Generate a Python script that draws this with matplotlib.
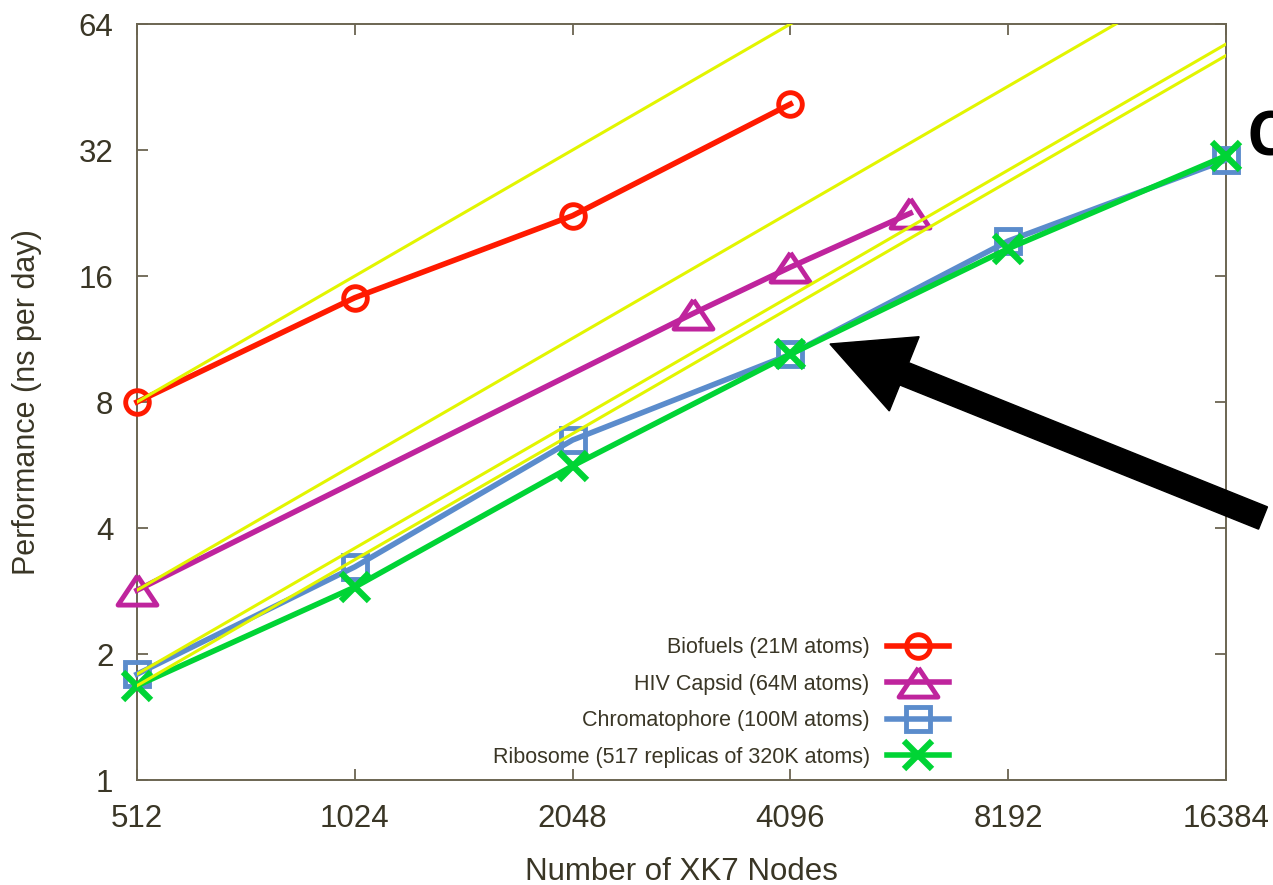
import matplotlib
matplotlib.use("Agg")
import matplotlib.pyplot as plt
from matplotlib.patches import FancyArrow
from matplotlib.transforms import IdentityTransform
from matplotlib.ticker import FixedLocator, FixedFormatter, NullLocator

# data
nodes = [512, 1024, 2048, 4096, 8192, 16384]
node_labels = ["512", "1024", "2048", "4096", "8192", "16384"]
perf_ticks = [1, 2, 4, 8, 16, 32, 64]
perf_labels = ["1", "2", "4", "8", "16", "32", "64"]

biofuels_x = [512, 1024, 2048, 4096]
biofuels_y = [8.0, 14.2, 22.3, 41.2]

hiv_x = [512, 3000, 4096, 6000]
hiv_y = [2.84, 13.0, 16.8, 22.6]

chromato_x = [512, 1024, 2048, 4096, 8192, 16384]
chromato_y = [1.79, 3.23, 6.49, 10.4, 19.4, 30.3]

ribosome_x = [512, 1024, 2048, 4096, 8192, 16384]
ribosome_y = [1.68, 2.89, 5.63, 10.4, 18.6, 31.0]

# ideal scaling lines (yellow)
ideal_x = [512, 16384]
ideal_biofuels = [8.0, 256.0]
ideal_hiv = [2.84, 90.9]
ideal_chromato = [1.79, 57.3]
ideal_ribosome = [1.68, 53.8]

text_col = "#3a3626"
spine_col = "#6b6552"
tick_font = "Liberation Sans"

fig = plt.figure(figsize=(12.73, 8.85), dpi=100)
ax = fig.add_axes([137 / 1273, 105 / 885, 1089 / 1273, 756 / 885])

ax.set_xscale("log", base=2)
ax.set_yscale("log", base=2)
ax.set_xlim(512, 16384)
ax.set_ylim(1, 64)

series = [
    (biofuels_x, biofuels_y, "#ff1a00", "o", "Biofuels (21M atoms)"),
    (hiv_x, hiv_y, "#bf249d", "tri", "HIV Capsid (64M atoms)"),
    (chromato_x, chromato_y, "#5b8ccc", "s", "Chromatophore (100M atoms)"),
    (ribosome_x, ribosome_y, "#00d435", "x", "Ribosome (517 replicas of 320K atoms)"),
]
tri = [(0, 0.75), (-1, -0.75), (1, -0.75), (0, 0.75)]

for xs, ys, col, mk, lab in series:
    if mk == "tri":
        ax.plot(xs, ys, color=col, lw=4, marker=tri, markersize=28, mfc="none",
                mec=col, mew=3.5, label=lab, clip_on=False, zorder=3)
    elif mk == "x":
        ax.plot(xs, ys, color=col, lw=4, marker="x", markersize=20, mew=4.5,
                label=lab, clip_on=False, zorder=4)
    else:
        ax.plot(xs, ys, color=col, lw=4, marker=mk, markersize=17, mfc="none",
                mec=col, mew=3.5, label=lab, clip_on=False, zorder=3)

for iy in [ideal_biofuels, ideal_hiv, ideal_chromato, ideal_ribosome]:
    ax.plot(ideal_x, iy, color="#e2f500", lw=2.2, zorder=5)

ax.xaxis.set_major_locator(FixedLocator(nodes))
ax.xaxis.set_major_formatter(FixedFormatter(node_labels))
ax.yaxis.set_major_locator(FixedLocator(perf_ticks))
ax.yaxis.set_major_formatter(FixedFormatter(perf_labels))
ax.xaxis.set_minor_locator(NullLocator())
ax.yaxis.set_minor_locator(NullLocator())

ax.tick_params(axis="both", direction="in", length=8, width=1.3, color=spine_col,
               top=True, right=True, labelcolor=text_col, labelsize=22.5)
ax.tick_params(axis="x", pad=17)
ax.tick_params(axis="y", pad=17)
for lbl in ax.get_xticklabels() + ax.get_yticklabels():
    lbl.set_fontfamily(tick_font)
for sp in ax.spines.values():
    sp.set_color(spine_col)
    sp.set_linewidth(1.4)

ax.set_xlabel("Number of XK7 Nodes", fontsize=22.5, color=text_col,
              family=tick_font, labelpad=17)
ax.set_ylabel("Performance (ns per day)", fontsize=22, color=text_col,
              family=tick_font, labelpad=26)

leg = ax.legend(loc="lower right", bbox_to_anchor=(0.746, 0.016), frameon=False,
                markerfirst=False, numpoints=1, handlelength=2.9,
                handletextpad=0.8, labelspacing=0.72, borderaxespad=0,
                borderpad=0, prop={"family": tick_font, "size": 15.5})
for t in leg.get_texts():
    t.set_color(text_col)

# big annotation arrow, in figure pixels
arrow = FancyArrow(1263, 885 - 518, 830 - 1263, (885 - 344) - (885 - 518),
                   width=24, head_width=80, head_length=80,
                   length_includes_head=True, color="black",
                   transform=IdentityTransform())
fig.patches.append(arrow)
arrow.set_figure(fig)

fig.text(1247 / 1273, 1 - 140 / 885, "C", fontsize=44, fontweight="bold",
         family="Open Sans", color="black", va="center", ha="left")

fig.savefig("out.png", dpi=100)
